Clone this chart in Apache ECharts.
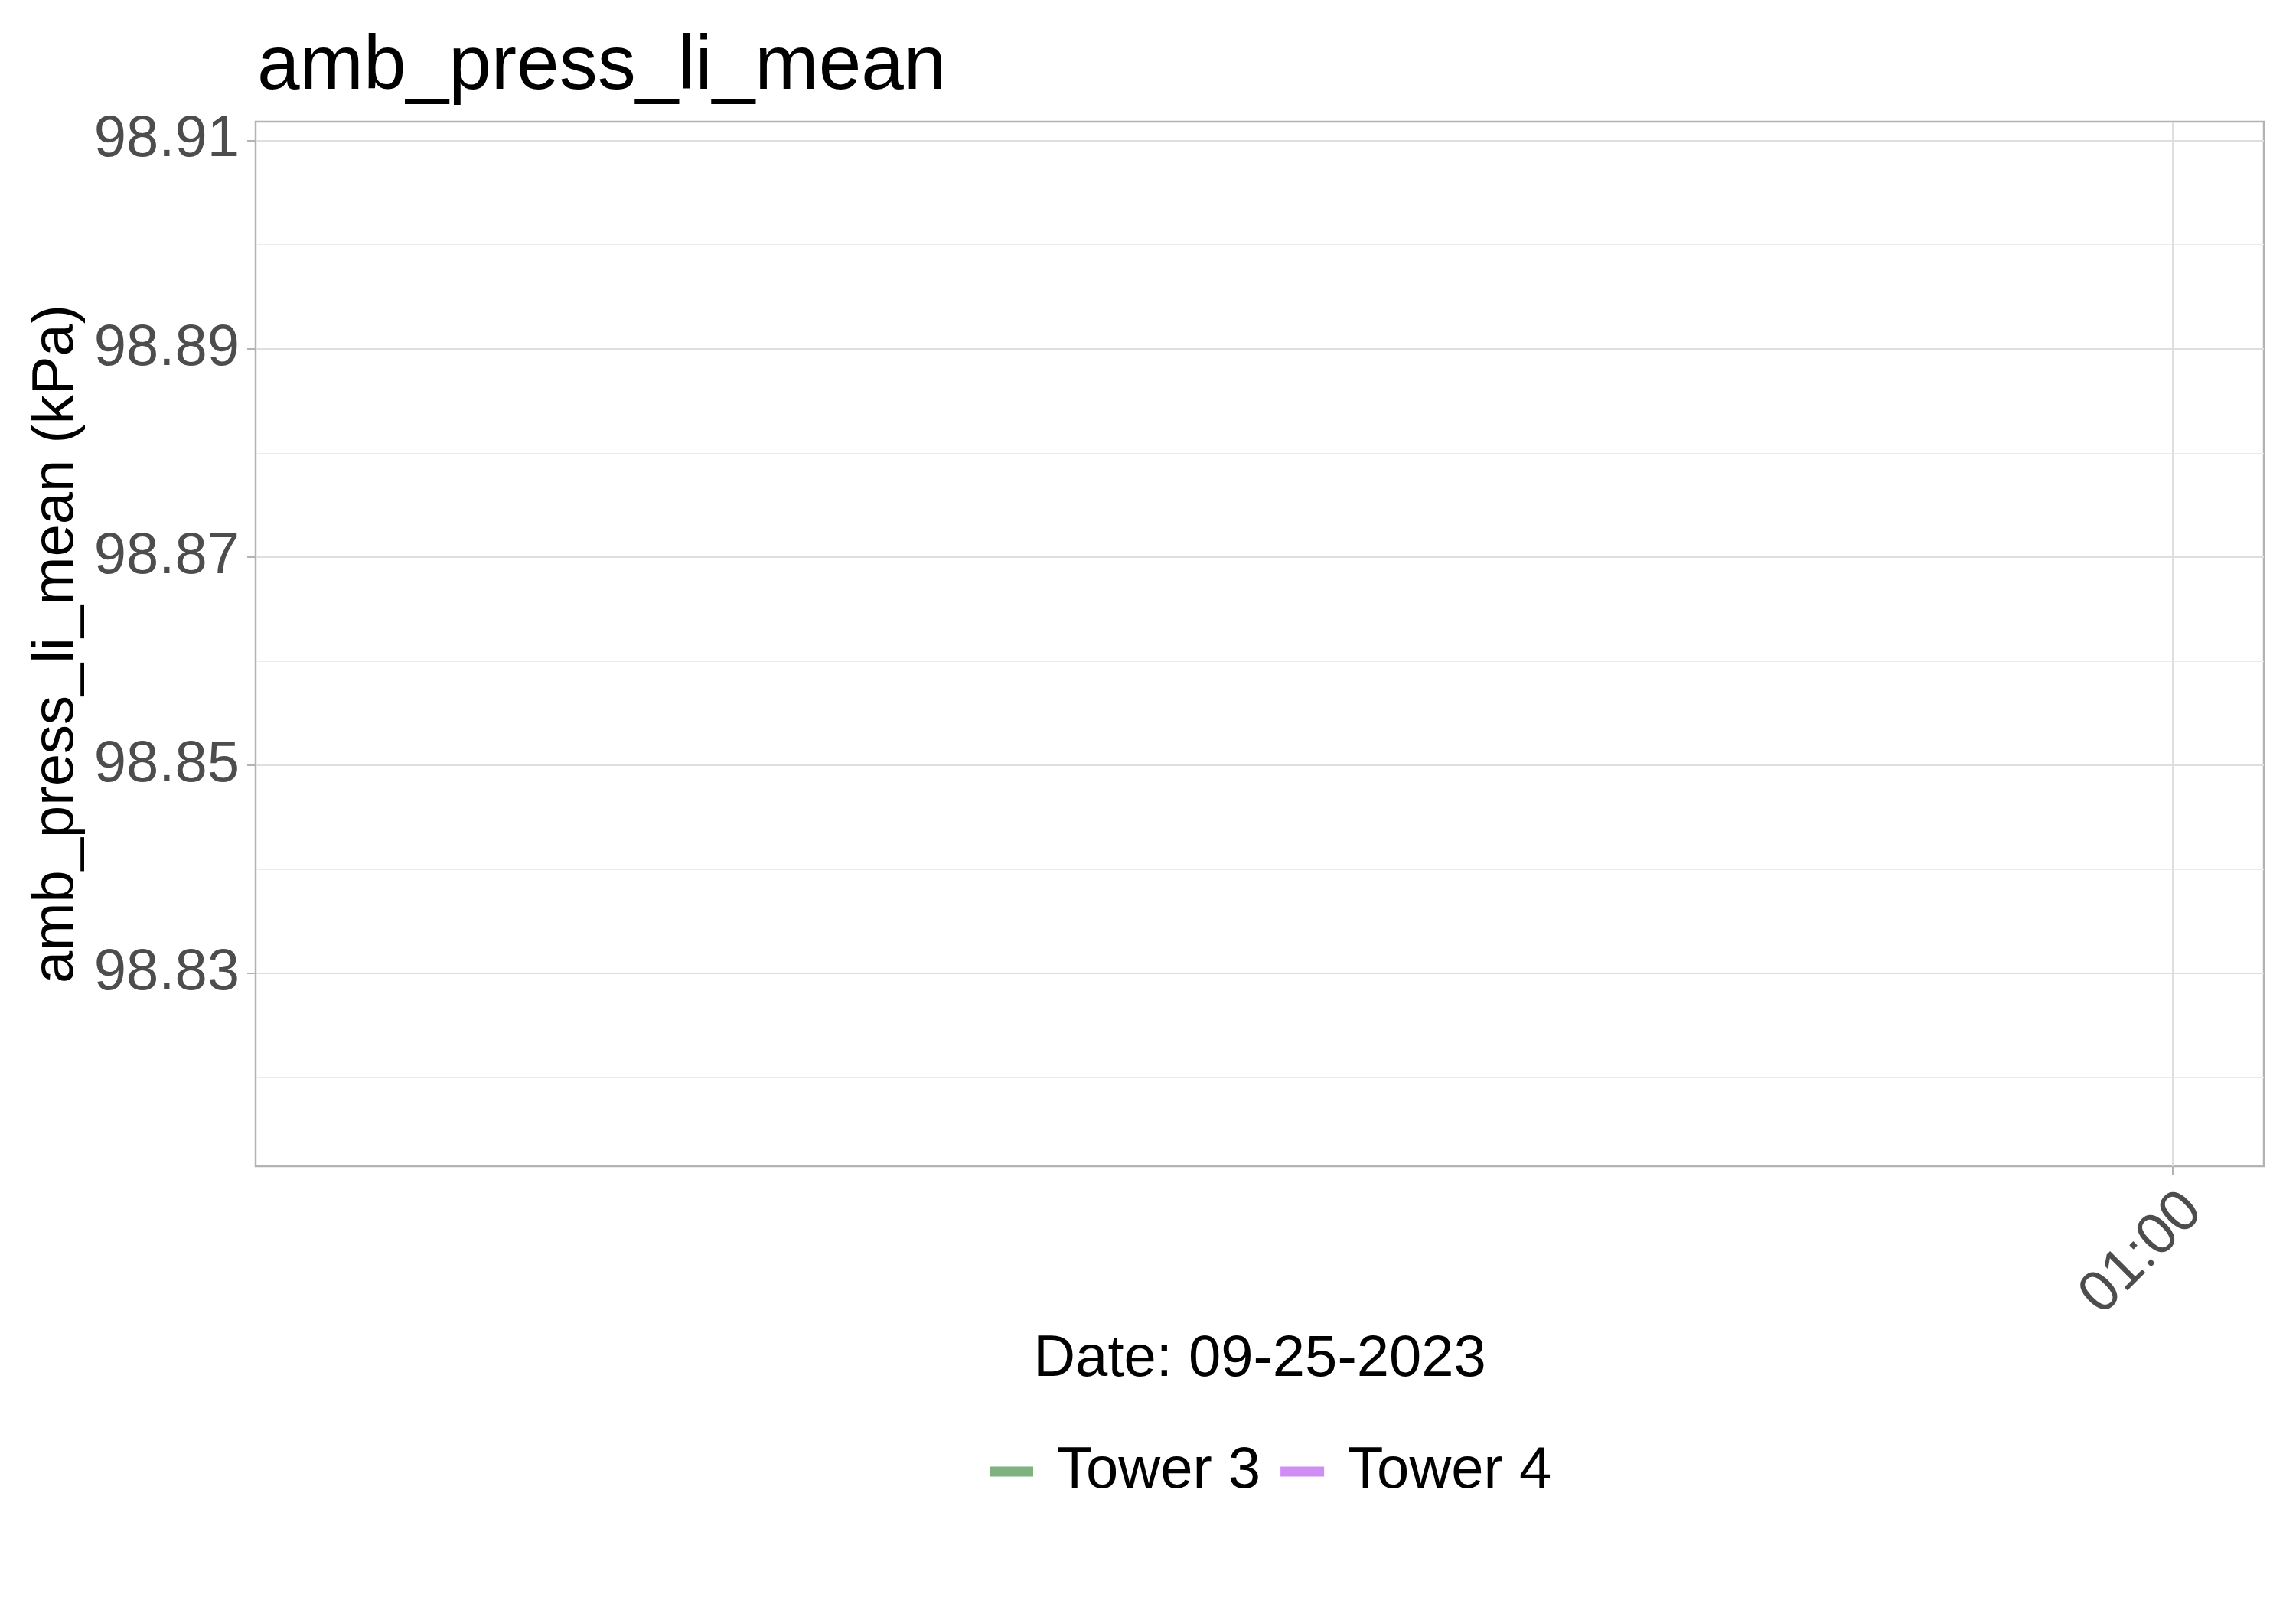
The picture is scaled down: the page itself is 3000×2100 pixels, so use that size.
<!DOCTYPE html>
<html>
<head>
<meta charset="utf-8">
<script src="https://cdn.jsdelivr.net/npm/echarts@6/dist/echarts.min.js"></script>
<style>
html,body{margin:0;padding:0;background:#ffffff;}
#chart{width:3000px;height:2100px;}
</style>
</head>
<body>
<div id="chart"></div>
<script>
// ---- data ----
// Time in minutes after 00:00 on 09-25-2023; no line segments are visible in the reference.
const timeMinutes = [10, 20, 30, 40, 50, 60];
const tower3 = [null, null, null, null, null, null];
const tower4 = [null, null, null, null, null, null];
const seriesNames = ['Tower 3', 'Tower 4'];
const xTickValues = [60];                       // 01:00
const yTickLabels = [98.83, 98.85, 98.87, 98.89, 98.91];
const yMinorValues = [98.82, 98.84, 98.86, 98.88, 98.90];
const xRange = [7.5, 62.5];
const yRange = [98.8115, 98.9118];

const FONT = "'Liberation Sans', Arial, sans-serif";
const fmtTime = m => {
  const h = Math.floor(m / 60), mm = Math.round(m % 60);
  return String(h).padStart(2, '0') + ':' + String(mm).padStart(2, '0');
};

const chart = echarts.init(document.getElementById('chart'), null, {renderer: 'canvas'});
chart.setOption({
  backgroundColor: '#ffffff',
  animation: false,
  title: {
    text: 'amb_press_li_mean',
    left: 331, top: 33,
    textStyle: {fontFamily: FONT, fontSize: 100, fontWeight: 'normal', color: '#000000'}
  },
  legend: {
    data: seriesNames,
    left: 1288, top: 1880,
    itemWidth: 57, itemHeight: 13, itemGap: 26,
    icon: 'rect',
    textStyle: {fontFamily: FONT, fontSize: 76, color: '#000000', padding: [0, 0, 0, 26]}
  },
  grid: {
    left: 334, top: 159, right: 42, bottom: 576,
    show: true, borderColor: '#b3b3b3', borderWidth: 2.5, backgroundColor: '#ffffff'
  },
  xAxis: {
    type: 'value',
    min: xRange[0], max: xRange[1],
    name: 'Date: 09-25-2023',
    nameLocation: 'middle', nameGap: 212,
    nameTextStyle: {fontFamily: FONT, fontSize: 76, color: '#000000'},
    axisLine: {show: false},
    axisTick: {show: true, length: 11, customValues: xTickValues, lineStyle: {color: '#b3b3b3', width: 2}},
    axisLabel: {
      customValues: xTickValues, rotate: 45, margin: 20,
      align: 'right', verticalAlign: 'top',
      fontFamily: FONT, fontSize: 76, color: '#4d4d4d',
      formatter: v => fmtTime(v)
    },
    splitLine: {show: true, lineStyle: {color: '#dedede', width: 2}}
  },
  yAxis: [{
    type: 'value',
    min: yRange[0], max: yRange[1],
    name: 'amb_press_li_mean (kPa)',
    nameLocation: 'middle', nameRotate: 90, nameGap: 199,
    nameTextStyle: {fontFamily: FONT, fontSize: 76, color: '#000000'},
    axisLine: {show: false},
    axisTick: {show: true, length: 11, customValues: yTickLabels, lineStyle: {color: '#b3b3b3', width: 2}},
    axisLabel: {
      customValues: yTickLabels, margin: 21,
      fontFamily: FONT, fontSize: 76, color: '#4d4d4d',
      formatter: v => v.toFixed(2)
    },
    splitLine: {show: true, lineStyle: {color: '#dedede', width: 2}}
  }, {
    type: 'value',
    min: yRange[0], max: yRange[1],
    position: 'left',
    axisLine: {show: false},
    axisTick: {show: false, customValues: yMinorValues},
    axisLabel: {show: false, customValues: yMinorValues},
    splitLine: {show: true, lineStyle: {color: '#ebebeb', width: 1.2}}
  }],
  series: [{
    name: seriesNames[0], type: 'line', yAxisIndex: 0,
    data: timeMinutes.map((t, i) => [t, tower3[i]]),
    symbol: 'none', connectNulls: false,
    itemStyle: {color: '#7fb27f'}, lineStyle: {color: '#7fb27f', width: 3}
  }, {
    name: seriesNames[1], type: 'line', yAxisIndex: 0,
    data: timeMinutes.map((t, i) => [t, tower4[i]]),
    symbol: 'none', connectNulls: false,
    itemStyle: {color: '#d08ef5'}, lineStyle: {color: '#d08ef5', width: 3}
  }]
});
</script>
</body>
</html>
